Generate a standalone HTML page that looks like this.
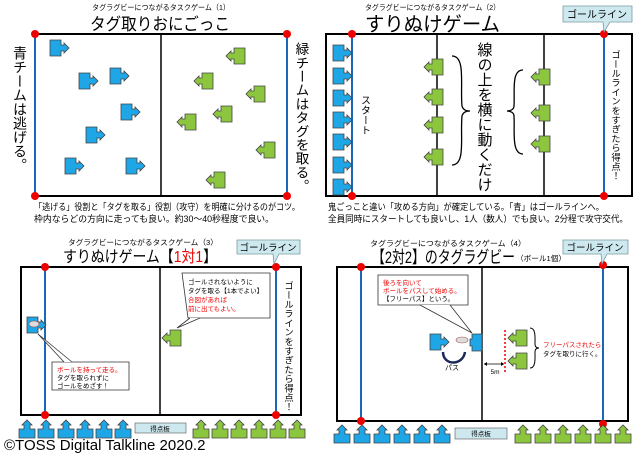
<!DOCTYPE html>
<html><head><meta charset="utf-8"><style>
html,body{margin:0;padding:0;background:#fff;}
svg{display:block;font-family:"Liberation Sans","Noto Sans CJK JP",sans-serif;}
.vt{writing-mode:vertical-rl;}
</style></head><body>
<svg width="640" height="453" viewBox="0 0 640 453" xmlns="http://www.w3.org/2000/svg">
<defs>
<g id="pb"><path d="M0,0h11v5h3v-2l5,5l-5,5v-2h-3v5h-11z" fill="#1ea6e6" stroke="#444" stroke-width="0.8"/></g>
<g id="pg"><path d="M19,0h-11v5h-3v-2l-5,5l5,5v-2h3v5h11z" fill="#8cc63f" stroke="#444" stroke-width="0.8"/></g>
<g id="ub"><path d="M0,18v-9h5v-4h-2l5,-5l5,5h-2v4h5v9z" fill="#1ea6e6" stroke="#444" stroke-width="0.8"/></g>
<g id="ug"><path d="M0,18v-9h5v-4h-2l5,-5l5,5h-2v4h5v9z" fill="#8cc63f" stroke="#444" stroke-width="0.8"/></g>
</defs>
<g font-size="7.5" fill="#000">
<text x="92" y="10" textLength="138" lengthAdjust="spacingAndGlyphs">タグラグビーにつながるタスクゲーム（1）</text>
<text x="365" y="10" textLength="135" lengthAdjust="spacingAndGlyphs">タグラグビーにつながるタスクゲーム（2）</text>
<text x="68" y="245" textLength="150" lengthAdjust="spacingAndGlyphs">タグラグビーにつながるタスクゲーム（3）</text>
<text x="370" y="246" textLength="156" lengthAdjust="spacingAndGlyphs">タグラグビーにつながるタスクゲーム（4）</text>
</g>
<!-- Panel1 -->
<text x="90" y="30" font-size="17" textLength="140" lengthAdjust="spacingAndGlyphs">タグ取りおにごっこ</text>
<rect x="35" y="34" width="252" height="162" fill="none" stroke="#000" stroke-width="2"/>
<line x1="161" y1="34" x2="161" y2="196" stroke="#000" stroke-width="1.5"/>
<line x1="35" y1="34" x2="35" y2="196" stroke="#1a66b8" stroke-width="2"/>
<line x1="287" y1="34" x2="287" y2="196" stroke="#1a66b8" stroke-width="2"/>
<g fill="#e00"><circle cx="35" cy="34" r="4"/><circle cx="287" cy="34" r="4"/><circle cx="35" cy="196" r="4"/><circle cx="287" cy="196" r="4"/></g>
<text x="20" y="46" font-size="14" class="vt">青チームは逃げる。</text>
<text x="301" y="42" font-size="13.7" class="vt">緑チームはタグを取る。</text>
<use href="#pb" x="50" y="40"/><use href="#pb" x="79" y="73"/><use href="#pb" x="110" y="68"/><use href="#pb" x="121" y="104"/><use href="#pb" x="86" y="127"/><use href="#pb" x="65" y="158"/><use href="#pb" x="126" y="158"/>
<use href="#pg" x="226" y="48"/><use href="#pg" x="194" y="73"/><use href="#pg" x="246" y="86"/><use href="#pg" x="213" y="106"/><use href="#pg" x="177" y="114"/><use href="#pg" x="256" y="142"/><use href="#pg" x="206" y="172"/>
<text x="34" y="210" font-size="9" textLength="266" lengthAdjust="spacingAndGlyphs">「逃げる」役割と「タグを取る」役割（攻守）を明確に分けるのがコツ。</text>
<text x="34" y="222" font-size="9" textLength="240" lengthAdjust="spacingAndGlyphs">枠内ならどの方向に走っても良い。約30〜40秒程度で良い。</text>
<!-- Panel2 -->
<text x="365" y="31" font-size="20" textLength="135" lengthAdjust="spacingAndGlyphs">すりぬけゲーム</text>
<rect x="326" y="34" width="306" height="162" fill="none" stroke="#000" stroke-width="2"/>
<line x1="437" y1="34" x2="437" y2="196" stroke="#000" stroke-width="1.5"/>
<line x1="544" y1="34" x2="544" y2="196" stroke="#000" stroke-width="1.5"/>
<line x1="352" y1="34" x2="352" y2="196" stroke="#1a66b8" stroke-width="2"/>
<line x1="604" y1="34" x2="604" y2="196" stroke="#1a66b8" stroke-width="2"/>
<g fill="#e00"><circle cx="352" cy="34" r="4"/><circle cx="604" cy="34" r="4"/><circle cx="352" cy="196" r="4"/><circle cx="604" cy="196" r="4"/></g>
<path d="M563,6h69v16h-22l-6,10l-1,-10h-40z" fill="#cde9ef" stroke="#7a9aa0" stroke-width="0.8"/>
<text x="597" y="18" font-size="10" text-anchor="middle">ゴールライン</text>
<use href="#pb" x="333" y="45"/><use href="#pb" x="333" y="68"/><use href="#pb" x="333" y="90"/><use href="#pb" x="333" y="112"/><use href="#pb" x="333" y="134"/><use href="#pb" x="333" y="157"/><use href="#pb" x="333" y="179"/>
<use href="#pg" x="424" y="59"/><use href="#pg" x="424" y="89"/><use href="#pg" x="424" y="117"/><use href="#pg" x="424" y="149"/>
<use href="#pg" x="531" y="69"/><use href="#pg" x="531" y="105"/><use href="#pg" x="531" y="136"/>
<text x="364" y="95" font-size="10" class="vt">スタート</text>
<text x="484" y="42" font-size="15" class="vt">線の上を横に動くだけ</text>
<path d="M452,56c14,0 8,30 10,50c1,4 4,5 8,5c-4,0 -7,1 -8,5c-2,20 4,49 -10,49" fill="none" stroke="#000" stroke-width="1.3"/>
<path d="M523,70c-12,0 -8,22 -9,36c0,3 -3,5 -7,5c4,0 7,2 7,5c1,14 -3,38 9,38" fill="none" stroke="#000" stroke-width="1.3"/>
<text x="615" y="50" font-size="9.3" class="vt">ゴールラインをすぎたら得点！</text>
<text x="328" y="210" font-size="9" textLength="276" lengthAdjust="spacingAndGlyphs">鬼ごっこと違い「攻める方向」が確定している。「青」はゴールラインへ。</text>
<text x="328" y="222" font-size="9" textLength="300" lengthAdjust="spacingAndGlyphs">全員同時にスタートしても良いし、1人（数人）でも良い。2分程で攻守交代。</text>
<!-- Panel3 -->
<text x="63" y="262" font-size="16" textLength="154" lengthAdjust="spacingAndGlyphs">すりぬけゲーム<tspan>【</tspan><tspan fill="#e00">1対1</tspan><tspan>】</tspan></text>
<rect x="21" y="267" width="280" height="148" fill="none" stroke="#000" stroke-width="2"/>
<line x1="160" y1="267" x2="160" y2="415" stroke="#000" stroke-width="1.5"/>
<line x1="45" y1="267" x2="45" y2="415" stroke="#1a66b8" stroke-width="2"/>
<line x1="276" y1="267" x2="276" y2="415" stroke="#1a66b8" stroke-width="2"/>
<g fill="#e00"><circle cx="45" cy="267" r="4"/><circle cx="276" cy="267" r="4"/><circle cx="45" cy="415" r="4"/><circle cx="276" cy="415" r="4"/></g>
<path d="M237,240h63v14h-21l-5,10l-1,-10h-36z" fill="#cde9ef" stroke="#7a9aa0" stroke-width="0.8"/>
<text x="268" y="251" font-size="9.5" text-anchor="middle">ゴールライン</text>
<use href="#pb" x="27" y="317"/><ellipse cx="34" cy="324" rx="5" ry="3" fill="#ddd" stroke="#a55" stroke-width="0.6"/>
<path d="M52,362h77v28h-77z" fill="#fff" stroke="#333" stroke-width="0.8"/>
<path d="M64,362L38,334L72,362" fill="#fff" stroke="#333" stroke-width="0.8"/>
<text font-size="6.5" x="57"><tspan x="57" y="372" fill="#e00">ボールを持って走る。</tspan><tspan x="57" y="380">タグを取られずに</tspan><tspan x="57" y="388">ゴールをめざす！</tspan></text>
<use href="#pg" x="162" y="330"/>
<path d="M182,273h88v45h-82z" fill="#fff" stroke="#333" stroke-width="0.8"/>
<path d="M190,318L177,328L200,318" fill="#fff" stroke="#333" stroke-width="0.8"/>
<text font-size="6.5"><tspan x="188" y="284">ゴールされないように</tspan><tspan x="188" y="293">タグを取る【1本でよい】</tspan><tspan x="188" y="302" fill="#e00">合図があれば</tspan><tspan x="188" y="311" fill="#e00">前に出てもよい。</tspan></text>
<text x="288" y="281" font-size="9.3" class="vt">ゴールラインをすぎたら得点！</text>
<use href="#ub" x="19" y="420"/><use href="#ub" x="38" y="420"/><use href="#ub" x="58" y="420"/><use href="#ub" x="77" y="420"/><use href="#ub" x="96" y="420"/><use href="#ub" x="115" y="420"/>
<rect x="135" y="423" width="51" height="10" fill="#cde9ef" stroke="#555" stroke-width="0.6"/>
<text x="160" y="431" font-size="6.5" text-anchor="middle">得点板</text>
<use href="#ug" x="193" y="420"/><use href="#ug" x="212" y="420"/><use href="#ug" x="231" y="420"/><use href="#ug" x="251" y="420"/><use href="#ug" x="270" y="420"/><use href="#ug" x="289" y="420"/>
<text x="4" y="450" font-size="15">©TOSS Digital Talkline 2020.2</text>
<!-- Panel4 -->
<text x="372" y="263" font-size="17" textLength="143" lengthAdjust="spacingAndGlyphs">【2対2】のタグラグビー</text>
<text x="516" y="261" font-size="7.5" textLength="50" lengthAdjust="spacingAndGlyphs">（ボール1個）</text>
<rect x="337" y="267" width="291" height="154" fill="none" stroke="#000" stroke-width="2"/>
<line x1="482" y1="267" x2="482" y2="421" stroke="#000" stroke-width="1.5"/>
<line x1="361" y1="267" x2="361" y2="421" stroke="#1a66b8" stroke-width="2"/>
<line x1="603" y1="267" x2="603" y2="421" stroke="#1a66b8" stroke-width="2"/>
<g fill="#e00"><circle cx="361" cy="267" r="4"/><circle cx="603" cy="265" r="4"/><circle cx="361" cy="421" r="4"/><circle cx="603" cy="424" r="4"/></g>
<path d="M563,240h65v14h-21l-5,10l-1,-10h-38z" fill="#cde9ef" stroke="#7a9aa0" stroke-width="0.8"/>
<text x="595" y="251" font-size="9.5" text-anchor="middle">ゴールライン</text>
<path d="M378,275h90v30h-90z" fill="#fff" stroke="#333" stroke-width="0.8"/>
<path d="M420,305L472,333L450,305" fill="#fff" stroke="#333" stroke-width="0.8"/>
<text font-size="6.5"><tspan x="383" y="285" fill="#e00">後ろを向いて</tspan><tspan x="383" y="293" fill="#e00">ボールをパスして始める。</tspan><tspan x="383" y="301">【フリーパス】という。</tspan></text>
<use href="#pb" x="430" y="334"/>
<path d="M472,334h10v17h-10v-5h-2v-7h2z" fill="#1ea6e6" stroke="#444" stroke-width="0.8"/>
<ellipse cx="462" cy="340" rx="6" ry="3" fill="#ddd" stroke="#a55" stroke-width="0.6"/>
<path d="M443,352c0,14 20,14 22,0" fill="none" stroke="#1a2a5a" stroke-width="2.5"/>
<text x="452" y="370" font-size="7" text-anchor="middle">パス</text>
<use href="#pg" x="508" y="330"/><use href="#pg" x="508" y="353"/>
<line x1="505" y1="330" x2="505" y2="372" stroke="#e00" stroke-width="1.5" stroke-dasharray="2,2"/>
<line x1="484" y1="364" x2="504" y2="364" stroke="#000" stroke-width="0.8"/>
<path d="M484,364l3,-2v4z"/><path d="M504,364l-3,-2v4z"/>
<text x="495" y="374" font-size="6.5" text-anchor="middle">5m</text>
<path d="M530,328c6,0 5,10 5,16c0,3 2,4 4,4c-2,0 -4,1 -4,4c0,6 1,16 -5,16" fill="none" stroke="#000" stroke-width="1"/>
<text font-size="6.5"><tspan x="543" y="347" fill="#e00">フリーパスされたら</tspan><tspan x="543" y="356">タグを取りに行く。</tspan></text>
<use href="#ub" x="334" y="425"/><use href="#ub" x="354" y="425"/><use href="#ub" x="374" y="425"/><use href="#ub" x="394" y="425"/><use href="#ub" x="414" y="425"/><use href="#ub" x="434" y="425"/>
<rect x="455" y="428" width="52" height="11" fill="#cde9ef" stroke="#555" stroke-width="0.6"/>
<text x="481" y="436" font-size="6.5" text-anchor="middle">得点板</text>
<use href="#ug" x="515" y="425"/><use href="#ug" x="535" y="425"/><use href="#ug" x="555" y="425"/><use href="#ug" x="575" y="425"/><use href="#ug" x="595" y="425"/><use href="#ug" x="615" y="425"/>
</svg>
</body></html>
